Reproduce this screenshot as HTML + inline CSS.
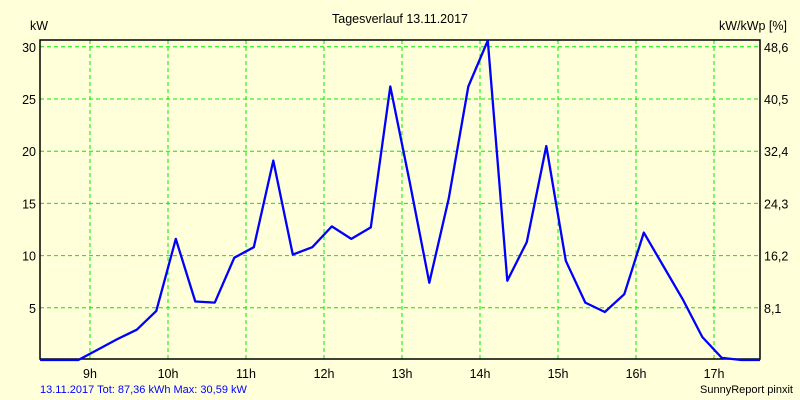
<!DOCTYPE html>
<html><head><meta charset="utf-8"><style>
body{margin:0;background:#ffffd9;}
svg{display:block;font-family:"Liberation Sans",sans-serif;}
</style></head><body>
<svg id="c" width="800" height="400">
<rect width="800" height="400" fill="#ffffd9"/>
<text x="400" y="23" font-size="12.5" text-anchor="middle">Tagesverlauf 13.11.2017</text>
<text x="30" y="30" font-size="12.5">kW</text>
<text x="787" y="30" font-size="12.5" text-anchor="end">kW/kWp [%]</text>
<g id="grid"></g><g id="ticks"></g>
<rect x="40" y="40" width="720" height="319" fill="none" stroke="#000" stroke-width="1.5"/>
<polyline id="line" fill="none" stroke="#0000ff" stroke-width="2.3" stroke-linejoin="round"/>
<text x="40" y="393" font-size="11" fill="#0000ff">13.11.2017 Tot: 87,36 kWh Max: 30,59 kW</text>
<text x="793" y="393" font-size="11" text-anchor="end">SunnyReport pinxit</text>
</svg>
<script>
const times=[8.36,8.85,9.1,9.35,9.6,9.85,10.1,10.35,10.6,10.85,11.1,11.35,11.6,11.85,12.1,12.35,12.6,12.85,13.1,13.35,13.6,13.85,14.1,14.35,14.6,14.85,15.1,15.35,15.6,15.85,16.1,16.35,16.6,16.85,17.1,17.35,17.59];
const values=[0,0,1.0,2.0,2.9,4.7,11.6,5.6,5.5,9.8,10.8,19.1,10.1,10.8,12.8,11.6,12.7,26.2,17.0,7.4,15.5,26.2,30.59,7.6,11.3,20.5,9.5,5.5,4.6,6.3,12.2,9.0,5.8,2.2,0.2,0,0];
const hourTicks=[9,10,11,12,13,14,15,16,17];
const leftTicks=[5,10,15,20,25,30];
const rightLabels=["8,1","16,2","24,3","32,4","40,5","48,6"];
const NS="http://www.w3.org/2000/svg";
const xs=h=>90+(h-9)*78;
const ys=v=>360-v*10.44;
const grid=document.getElementById('grid'),ticks=document.getElementById('ticks');
function mk(tag,attrs,parent,text){const e=document.createElementNS(NS,tag);for(const k in attrs)e.setAttribute(k,attrs[k]);if(text!=null)e.textContent=text;parent.appendChild(e);return e;}
hourTicks.forEach(h=>{
  const l=mk('line',{x1:xs(h),x2:xs(h),y1:40,y2:359,stroke:'#00ee00','stroke-dasharray':'4,3'},grid);
  
  
  const t=mk('text',{x:xs(h),y:378,'font-size':12.5,'text-anchor':'middle'},ticks,h+'h');
  
  
});
leftTicks.forEach((v,i)=>{
  const l=mk('line',{x1:40,x2:760,y1:ys(v),y2:ys(v),stroke:'#00ee00','stroke-dasharray':'4,3'},grid);
  
  
  const t=mk('text',{x:36,y:ys(v)+5,'font-size':12.5,'text-anchor':'end'},ticks,String(v));
  
  
  const r=mk('text',{x:764,y:ys(v)+5,'font-size':12.5},ticks,rightLabels[i]);
  
  
});
document.getElementById('line').setAttribute('points',times.map((t,i)=>xs(t).toFixed(1)+','+Math.max(40,ys(values[i])).toFixed(1)).join(' '));
</script>
</body></html>
